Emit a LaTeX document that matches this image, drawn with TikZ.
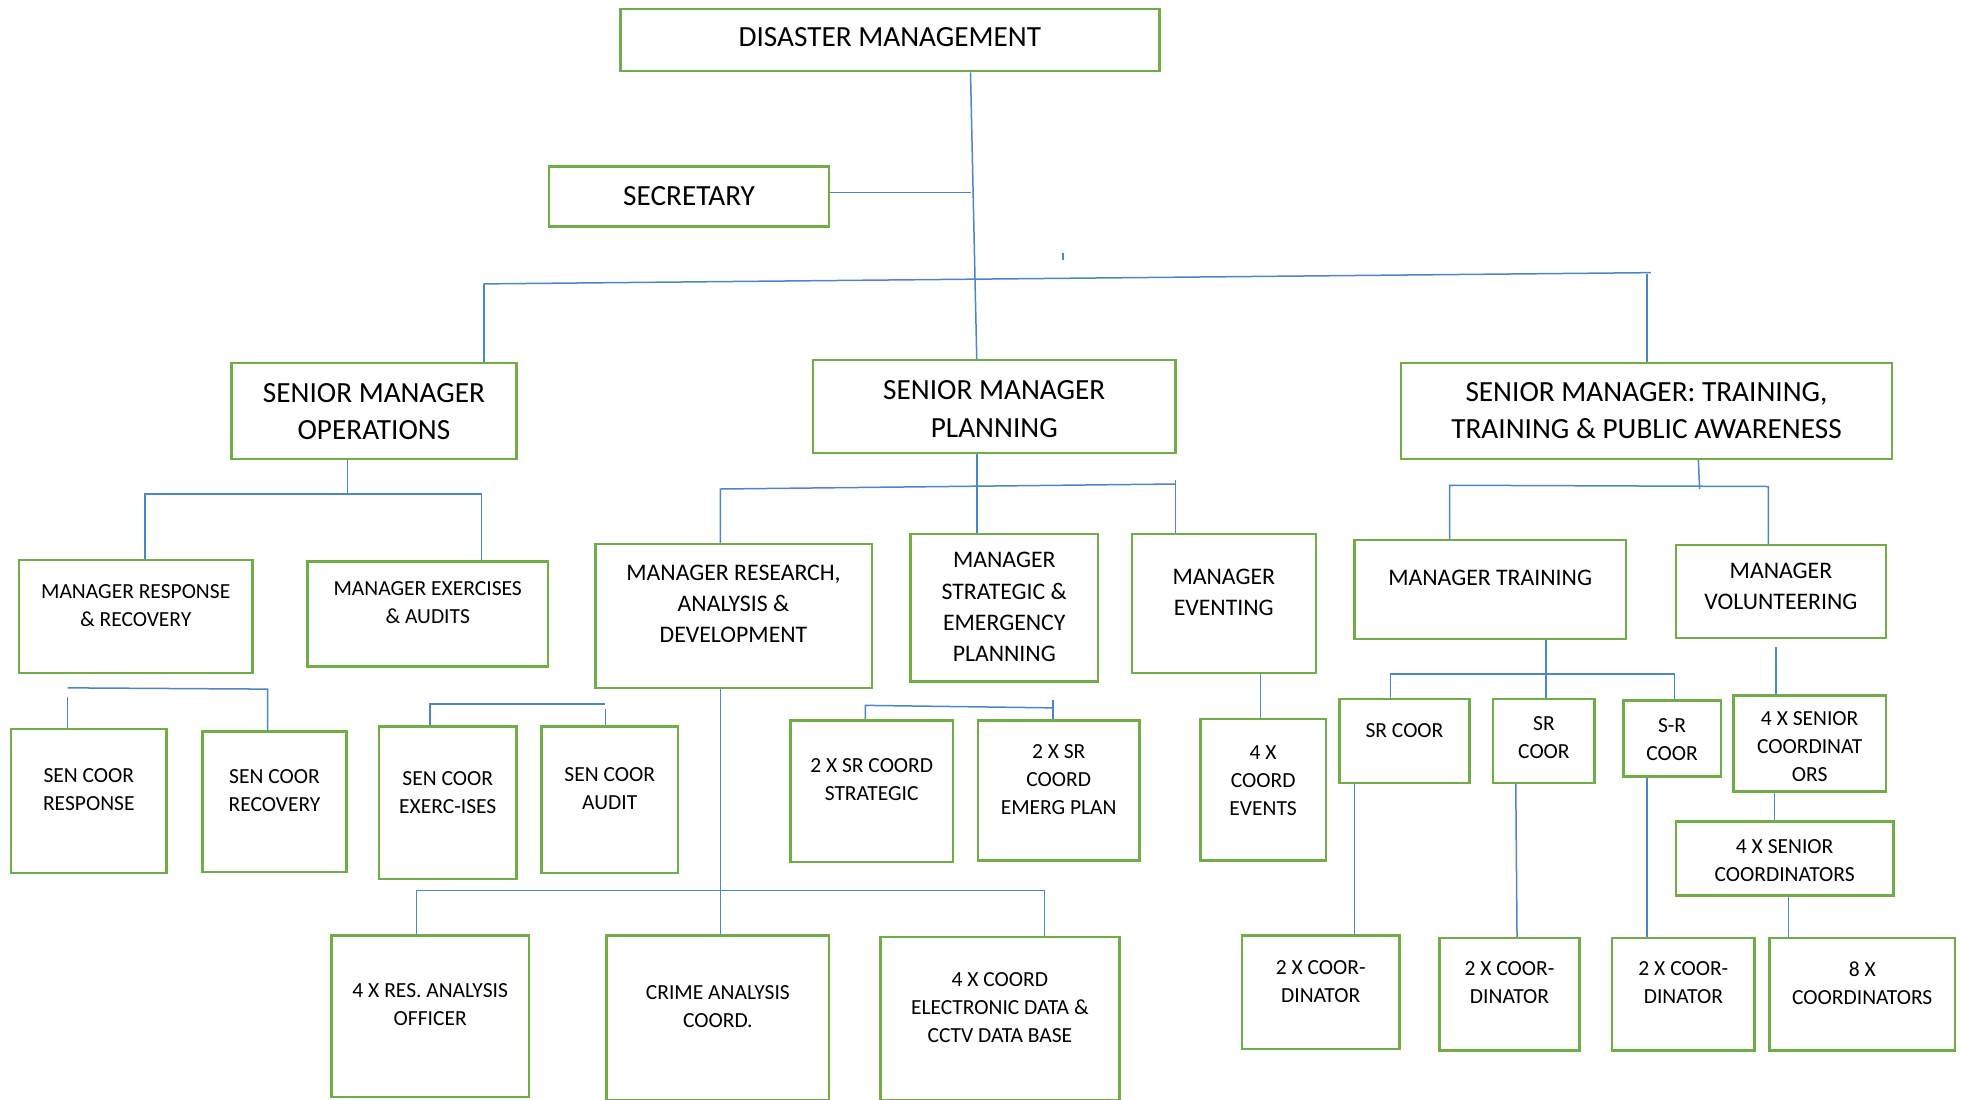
\documentclass[tikz,border=0pt]{standalone}
\usepackage{fontspec}
\setmainfont{Carlito}
\usetikzlibrary{fit,calc}
\definecolor{boxgreen}{RGB}{112,173,71}
\definecolor{linkblue}{RGB}{74,134,200}
\tikzset{
  box/.style={draw=boxgreen, line width=0.95pt, inner sep=0pt},
  conn/.style={draw=linkblue, line width=0.6pt},
  big/.style={font=\fontsize{11.7}{15}\selectfont, align=center, inner sep=0pt},
  mid/.style={font=\fontsize{9.5}{12.5}\selectfont, align=center, inner sep=0pt},
  small/.style={font=\fontsize{8.6}{11.2}\selectfont, align=center, inner sep=0pt},
}
% \obox{name}{x1}{y1}{x2}{y2}{text centre y}{text style}{text}
\newcommand\obox[8]{%
  \node[box, fit={(#2,#3) (#4,#5)}] (#1) {};
  \node[#7] (#1-t) at ({(#2+#4)/2},#6) {#8};
}
\begin{document}
\begin{tikzpicture}[x=0.5pt,y=-0.5pt]
\useasboundingbox (0,0) rectangle (1568,879);

% top level
\obox{dm}{496}{7}{927}{57}{30}{big}{DISASTER MANAGEMENT}
\obox{sec}{439}{133}{663}{181}{157}{big}{SECRETARY}

% senior managers
\obox{ops}{185}{290}{413}{367}{329}{big}{SENIOR MANAGER\\OPERATIONS}
\obox{plan}{650}{288}{940}{362}{327}{big}{SENIOR MANAGER\\PLANNING}
\obox{smt}{1120}{290}{1513}{367}{328.5}{big}{SENIOR MANAGER: TRAINING,\\TRAINING \& PUBLIC AWARENESS}

% managers
\obox{resp}{15}{448}{202}{538}{484}{small}{MANAGER RESPONSE\\\& RECOVERY}
\obox{exer}{246}{449}{438}{533}{482}{small}{MANAGER EXERCISES\\\& AUDITS}
\obox{rad}{476}{435}{697}{550}{483}{mid}{MANAGER RESEARCH,\\ANALYSIS \&\\DEVELOPMENT}
\obox{strat}{728}{427}{878}{545}{485.5}{mid}{MANAGER\\STRATEGIC \&\\EMERGENCY\\PLANNING}
\obox{evt}{905}{427}{1052}{538}{473.5}{mid}{MANAGER\\EVENTING}
\obox{mtr}{1083}{432}{1300}{511}{462}{mid}{MANAGER TRAINING}
\obox{mvol}{1340}{436}{1508}{510}{469}{mid}{MANAGER\\VOLUNTEERING}

% coordinators, first row
\obox{scresp}{9}{583}{133}{698}{631.5}{small}{SEN COOR\\RESPONSE}
\obox{screc}{162}{585}{277}{697}{632.5}{small}{SEN COOR\\RECOVERY}
\obox{scex}{303}{581}{413}{703}{633.5}{small}{SEN COOR\\EXERC-ISES}
\obox{scaud}{433}{581}{542}{698}{630.5}{small}{SEN COOR\\AUDIT}
\obox{srs}{632}{576}{762}{689}{623.5}{small}{2 X SR COORD\\STRATEGIC}
\obox{sre}{782}{576}{911}{688}{623}{small}{2 X SR\\COORD\\EMERG PLAN}
\obox{coev}{960}{575}{1060}{688}{624}{small}{4 X\\COORD\\EVENTS}
\obox{srca}{1071}{559}{1175}{626}{584}{small}{SR COOR}
\obox{srcb}{1194}{559}{1275}{626}{590}{small}{SR\\COOR}
\obox{srcc}{1298}{560}{1376}{621}{591}{small}{S-R\\COOR}
\obox{snra}{1386}{556}{1508}{633}{597}{small}{4 X SENIOR\\COORDINAT\\ORS}
\obox{snrb}{1340}{657}{1514}{716}{688}{small}{4 X SENIOR\\COORDINATORS}

% coordinators, bottom row
\obox{res4}{265}{748}{423}{877}{803.5}{small}{4 X RES. ANALYSIS\\OFFICER}
\obox{crime}{485}{748}{663}{879.5}{804.5}{small}{CRIME ANALYSIS\\COORD.}
\obox{cctv}{704}{749}{895}{879.5}{805.5}{small}{4 X COORD\\ELECTRONIC DATA \&\\CCTV DATA BASE}
\obox{cda}{993}{748}{1119}{839}{784.5}{small}{2 X COOR-\\DINATOR}
\obox{cdb}{1151}{750}{1263}{840}{786}{small}{2 X COOR-\\DINATOR}
\obox{cdc}{1289}{750}{1403}{840}{786}{small}{2 X COOR-\\DINATOR}
\obox{c8}{1415}{750}{1563}{840}{786}{small}{8 X\\COORDINATORS}

% ---- connectors ----
% main trunk
\coordinate (dmx) at (776,0);
\coordinate (plx) at (781,0);
\coordinate (trL) at (387,227);
\coordinate (trR) at (1320,218);
\coordinate (trRx) at (1317,219);
\coordinate (tickA) at (850,202);
\coordinate (tickB) at (850,208);
\draw[conn] (dm.south -| dmx) -- (plan.north -| plx);
\draw[conn] (sec.east) ++(0,-3) -- (dmx |- {0,154});
\draw[conn] (trL) -- (trR);
\draw[conn] (trL) -- (ops.north -| trL);
\draw[conn] (trRx) -- (smt.north -| trRx);
\draw[conn] (tickA) -- (tickB);

% operations branch
\coordinate (opsM) at (278,395);
\coordinate (opsL) at (116,395);
\coordinate (opsR) at (385,395);
\draw[conn] (ops.south -| opsM) -- (opsM);
\draw[conn] (resp.north -| opsL) -- (opsL) -- (opsR) -- (exer.north -| opsR);

% planning branch
\coordinate (plL) at (576,391);
\coordinate (plR) at (940,387);
\coordinate (plRt) at (940,384);
\draw[conn] (plan.south -| plx) -- (strat.north -| plx);
\draw[conn] (rad.north -| plL) -- (plL) -- (plR);
\draw[conn] (plRt) -- (evt.north -| plRt);

% training branch
\coordinate (tM) at (1358,0);
\coordinate (tMb) at (1359,391);
\coordinate (tL) at (1159,388);
\coordinate (tR) at (1414,389);
\draw[conn] (smt.south -| tM) -- (tMb);
\draw[conn] (mtr.north -| tL) -- (tL) -- (tR) -- (mvol.north -| tR);

% response & recovery
\coordinate (rrL) at (54,550);
\coordinate (rrLt) at (54,557);
\coordinate (rrR) at (214,551);
\draw[conn] (rrL) -- (rrR) -- (screc.north -| rrR);
\draw[conn] (rrLt) -- (scresp.north -| rrLt);

% exercises & audits
\coordinate (exL) at (344,563);
\coordinate (exR) at (484,563);
\coordinate (exRt) at (484,567);
\draw[conn] (scex.north -| exL) -- (exL) -- (exR);
\draw[conn] (exRt) -- (scaud.north -| exRt);

% research, analysis & development
\coordinate (rdM) at (576,712);
\coordinate (rdL) at (333,712);
\coordinate (rdR) at (835,712);
\draw[conn] (rad.south -| rdM) -- (crime.north -| rdM);
\draw[conn] (res4.north -| rdL) -- (rdL) -- (rdR) -- (cctv.north -| rdR);

% strategic & emergency planning
\coordinate (stL) at (692,564);
\coordinate (stR) at (842,566);
\coordinate (stRt) at (842,560);
\draw[conn] (srs.north -| stL) -- (stL) -- (stR);
\draw[conn] (stRt) -- (sre.north -| stRt);

% eventing
\coordinate (evx) at (1008,0);
\draw[conn] (evt.south -| evx) -- (coev.north -| evx);

% manager training
\coordinate (tcM) at (1236,0);
\coordinate (tcL) at (1112,539);
\coordinate (tcR) at (1339,539);
\draw[conn] (mtr.south -| tcM) -- (srcb.north -| tcM);
\draw[conn] (srca.north -| tcL) -- (tcL) -- (tcR) -- (srcc.north -| tcR);

% volunteering
\coordinate (vtop) at (1420,517);
\coordinate (vx) at (1419,0);
\coordinate (vx2) at (1430,0);
\draw[conn] (vtop) -- (snra.north -| vtop);
\draw[conn] (snra.south -| vx) -- (snrb.north -| vx);
\draw[conn] (snrb.south -| vx2) -- (c8.north -| vx2);

% senior coordinators to coordinators
\coordinate (sa) at (1083,0);
\coordinate (sb) at (1212,0);
\coordinate (sbb) at (1213,0);
\coordinate (sc) at (1317,0);
\draw[conn] (srca.south -| sa) -- (cda.north -| sa);
\draw[conn] (srcb.south -| sb) -- (cdb.north -| sbb);
\draw[conn] (srcc.south -| sc) -- (cdc.north -| sc);
\end{tikzpicture}
\end{document}
